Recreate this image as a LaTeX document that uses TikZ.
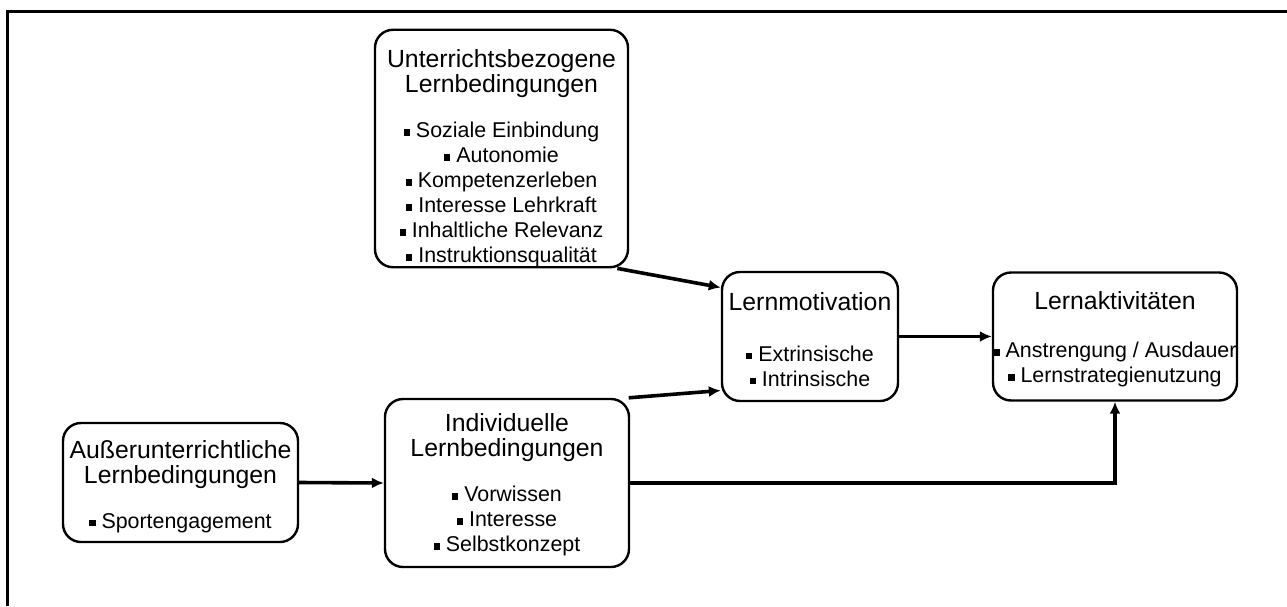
\documentclass[tikz,border=0pt]{standalone}
\usepackage{fontspec}
\setmainfont{Liberation Sans}
\usetikzlibrary{arrows.meta,positioning,calc}

\newcommand{\pkt}{\rule[0.2ex]{3.1pt}{3.1pt}\hspace{3pt}}
\newcommand{\titel}[1]{{\fontsize{12.4}{13.75}\selectfont #1}}

\tikzset{
  box/.style={draw, line width=1.2pt, rounded corners=9pt, align=center, inner sep=0pt,
              font=\fontsize{10.7}{12.5}\selectfont},
  pfeil/.style={-{Latex[length=6pt,width=5.5pt]}, line width=1.8pt},
}

\begin{document}
\begin{tikzpicture}[x=0.5pt, y=-0.5pt]
        \useasboundingbox (0,0) rectangle (1287,606);
        % frame (cropped at right and bottom)
        \draw[line width=1.5pt] (7,606) |- (1287,11);

        \node[box, minimum width=126.5pt, minimum height=118.5pt] (unt) at (501.5,148.5) {%
            \rule{0pt}{19pt}\titel{Unterrichtsbezogene}\\ \titel{Lernbedingungen}\\[10pt]
            \pkt Soziale Einbindung\\ \pkt Autonomie\\ \pkt Kompetenzerleben\\
            \pkt Interesse Lehrkraft\\ \pkt Inhaltliche Relevanz\\ \pkt Instruktionsqualität};
        \node[box, minimum width=88pt, minimum height=64.5pt] (mot) at (810,336.5) {%
            \rule{0pt}{12pt}\titel{Lernmotivation}\\[13pt]
            \pkt Extrinsische\\ \pkt Intrinsische};
        \node[box, minimum width=122pt, minimum height=64pt] (akt) at (1115,336.5) {%
            \rule{0pt}{12pt}\titel{Lernaktivitäten}\\[11.5pt]
            \pkt Anstrengung / Ausdauer\\ \pkt Lernstrategienutzung};
        \node[box, minimum width=117.5pt, minimum height=59.5pt] (aus) at (180.5,482.5) {%
            \rule{0pt}{13pt}\titel{Außerunterrichtliche}\\ \titel{Lernbedingungen}\\[10pt]
            \pkt Sportengagement};
        \node[box, minimum width=122pt, minimum height=84pt] (ind) at (507,483) {%
            \rule{0pt}{11pt}\titel{Individuelle}\\ \titel{Lernbedingungen}\\[10pt]
            \pkt Vorwissen\\ \pkt Interesse\\ \pkt Selbstkonzept};

        \draw[pfeil] (unt.-46) -- ([yshift=24.5pt]mot.west);
        \draw[pfeil] (ind.35) -- ([yshift=-27pt]mot.west);
        \draw[pfeil] (aus.east) -- (ind.west);
        \draw[pfeil] (mot.east) -- (akt.west);
        \draw[pfeil] (ind.east) -| (akt.south);
\end{tikzpicture}
\end{document}
